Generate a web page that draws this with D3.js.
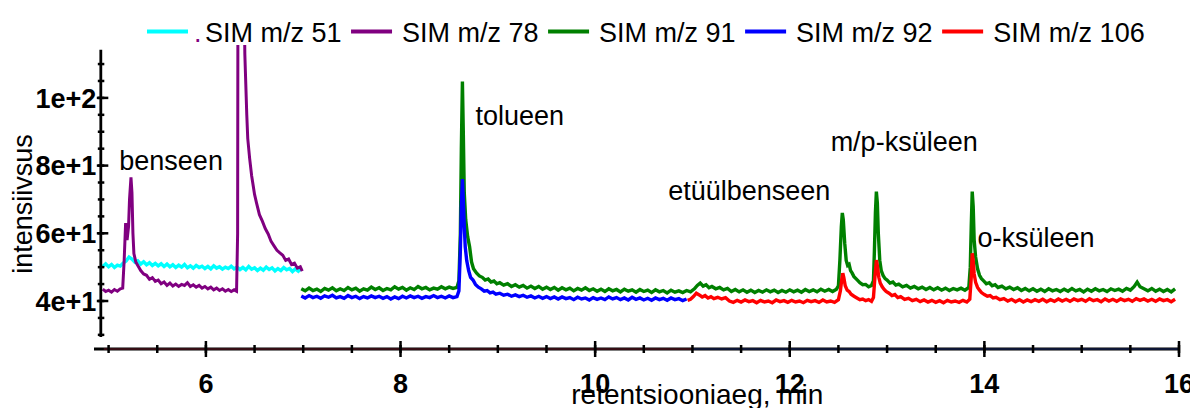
<!DOCTYPE html>
<html><head><meta charset="utf-8">
<script src="https://cdn.jsdelivr.net/npm/d3@7"></script>
<style>body{margin:0;background:#fff}svg{display:block}text{font-family:"Liberation Sans",Arial,sans-serif}</style>
</head><body><svg id="c" width="1190" height="408"></svg>
<script>
// ---- data ----
const seriesNames = ["SIM m/z 51","SIM m/z 78","SIM m/z 91","SIM m/z 92","SIM m/z 106"];
const seriesColors = ["#00ffff","#800080","#008000","#0000ff","#ff0000"];
const xMajorTicks = [6,8,10,12,14,16];
const yMajorTicks = [40,60,80,100];
const yTickLabels = ["4e+1","6e+1","8e+1","1e+2"];
const xTitle = "retentsiooniaeg, min";
const yTitle = "intensiivsus";
const peakLabels = ["benseen","tolueen","etüülbenseen","m/p-ksüleen","o-ksüleen"];
const peakLabelAt = [[5.11,78.7],[8.77,92],[10.75,69.8],[12.42,84.2],[13.93,56]];

const mz51 = [[4.94,50.2],[4.97,51.0],[5.00,50.1],[5.03,50.8],[5.06,49.9],[5.09,50.6],[5.12,50.3],[5.15,51.2],[5.18,51.8],[5.21,53.0],[5.24,52.4],[5.27,51.5],[5.30,51.9],[5.33,50.9],[5.36,51.6],[5.39,50.7],[5.42,51.3],[5.45,50.5],[5.48,51.1],[5.51,50.4],[5.54,51.0],[5.57,50.2],[5.60,50.9],[5.63,50.1],[5.66,50.7],[5.69,49.9],[5.72,50.6],[5.75,50.0],[5.78,50.8],[5.81,49.8],[5.84,50.4],[5.87,49.7],[5.90,50.5],[5.93,49.9],[5.96,50.3],[5.99,49.6],[6.02,50.2],[6.05,49.5],[6.08,50.4],[6.11,49.7],[6.14,50.1],[6.17,49.4],[6.20,50.0],[6.23,49.6],[6.26,50.3],[6.29,49.5],[6.32,50.0],[6.35,49.3],[6.38,49.9],[6.41,49.2],[6.44,50.2],[6.47,49.4],[6.50,49.8],[6.53,49.0],[6.56,49.7],[6.59,49.1],[6.62,50.0],[6.65,49.3],[6.68,49.8],[6.71,48.9],[6.74,49.6],[6.77,49.0],[6.80,49.9],[6.83,49.2],[6.86,49.6],[6.89,48.7],[6.92,49.5],[6.95,48.8],[6.98,49.7]];

const mz78 = [[4.94,43.5],[4.97,42.8],[5.00,43.2],[5.03,42.6],[5.06,43.4],[5.09,42.9],[5.12,43.6],[5.145,43.8],[5.16,52],[5.175,63],[5.19,58],[5.205,62],[5.215,70],[5.23,76.5],[5.24,72],[5.25,60],[5.26,54],[5.28,51.5],[5.30,50.5],[5.33,49],[5.36,48],[5.39,47.6],[5.42,46.4],[5.45,46.9],[5.48,45.8],[5.51,46.2],[5.54,45.1],[5.57,45.6],[5.60,44.6],[5.63,45.3],[5.66,44.4],[5.69,45.0],[5.72,44.3],[5.75,44.9],[5.78,44.6],[5.81,45.4],[5.84,44.3],[5.87,44.8],[5.90,44.1],[5.93,44.6],[5.96,43.8],[5.99,44.3],[6.02,43.6],[6.05,44.1],[6.08,43.3],[6.11,43.8],[6.14,43.1],[6.17,43.6],[6.20,42.9],[6.23,43.4],[6.26,42.8],[6.29,43.3],[6.315,42.9],[6.326,60],[6.33,150],[6.36,220],[6.40,113],[6.42,95],[6.43,88],[6.45,82],[6.47,77],[6.50,71.5],[6.52,69],[6.55,65.5],[6.58,63.6],[6.61,61.4],[6.64,59.8],[6.67,57.6],[6.70,56.3],[6.73,55.0],[6.76,54.2],[6.79,53.5],[6.82,52.0],[6.85,52.4],[6.88,50.8],[6.91,51.2],[6.94,49.7],[6.97,50.1],[6.99,48.8]];

const mz91 = [[6.98,43.6],[7.02,43.0],[7.06,43.8],[7.10,43.1],[7.14,43.5],[7.18,42.8],[7.22,43.7],[7.26,43.2],[7.30,43.9],[7.34,43.0],[7.38,43.6],[7.42,43.1],[7.46,44.0],[7.50,43.3],[7.54,43.8],[7.58,42.9],[7.62,43.6],[7.66,43.2],[7.70,44.1],[7.74,43.4],[7.78,43.9],[7.82,43.1],[7.86,43.7],[7.90,43.3],[7.94,44.2],[7.98,43.5],[8.02,44.0],[8.06,43.2],[8.10,43.9],[8.14,43.4],[8.18,44.3],[8.22,43.6],[8.26,44.0],[8.30,43.3],[8.34,43.8],[8.38,43.5],[8.42,44.2],[8.46,43.6],[8.50,44.1],[8.54,43.7],[8.58,44.0],[8.60,46],[8.615,60],[8.625,85],[8.636,104.8],[8.645,90],[8.655,72],[8.67,64],[8.69,59],[8.71,56],[8.73,51.5],[8.75,49.5],[8.78,48.3],[8.81,47.4],[8.84,47.0],[8.87,46.2],[8.90,46.5],[8.93,45.6],[8.96,45.9],[8.99,45.1],[9.02,45.4],[9.06,44.7],[9.10,45.1],[9.14,44.3],[9.18,44.8],[9.22,44.1],[9.26,44.6],[9.30,43.8],[9.34,44.4],[9.38,43.7],[9.42,44.3],[9.46,43.5],[9.50,44.1],[9.54,43.4],[9.58,44.0],[9.62,43.2],[9.66,43.9],[9.70,43.3],[9.74,43.8],[9.78,43.0],[9.82,43.7],[9.86,43.2],[9.90,43.9],[9.94,43.1],[9.98,43.6],[10.02,42.9],[10.06,43.5],[10.10,42.8],[10.14,43.6],[10.18,43.0],[10.22,43.4],[10.26,42.7],[10.30,43.5],[10.34,42.9],[10.38,43.3],[10.42,42.6],[10.46,43.4],[10.50,42.8],[10.54,43.2],[10.58,42.5],[10.62,43.3],[10.66,42.7],[10.70,43.1],[10.74,42.4],[10.78,43.2],[10.82,42.6],[10.86,43.0],[10.90,42.5],[10.94,43.1],[10.98,42.7],[11.02,43.6],[11.05,44.6],[11.08,45.3],[11.11,44.4],[11.14,44.8],[11.17,43.9],[11.20,44.3],[11.24,43.6],[11.28,44.0],[11.32,43.3],[11.36,43.7],[11.40,42.8],[11.44,43.4],[11.48,42.7],[11.52,43.3],[11.56,42.6],[11.60,43.2],[11.64,42.5],[11.68,43.1],[11.72,42.6],[11.76,43.3],[11.80,42.7],[11.84,43.2],[11.88,42.5],[11.92,43.1],[11.96,42.6],[12.00,43.3],[12.04,42.7],[12.08,43.2],[12.12,42.6],[12.16,43.4],[12.20,42.8],[12.24,43.3],[12.28,42.7],[12.32,43.5],[12.36,42.9],[12.40,43.4],[12.44,42.8],[12.48,43.5],[12.50,44.5],[12.515,52],[12.53,62],[12.54,66],[12.55,64],[12.565,57],[12.58,52],[12.595,50.5],[12.61,50.8],[12.625,49],[12.64,48.3],[12.66,47.2],[12.68,46.6],[12.70,46.0],[12.72,45.4],[12.75,44.8],[12.78,44.9],[12.81,44.2],[12.84,44.6],[12.86,46],[12.87,55],[12.88,66],[12.89,72.3],[12.90,69],[12.91,60],[12.925,52],[12.94,49],[12.96,47.5],[12.98,46.6],[13.00,46.2],[13.03,45.3],[13.06,45.6],[13.09,44.7],[13.12,45.0],[13.16,44.2],[13.20,44.6],[13.24,43.8],[13.28,44.3],[13.32,43.6],[13.36,44.1],[13.40,43.4],[13.44,44.0],[13.48,43.3],[13.52,43.9],[13.56,43.2],[13.60,43.8],[13.64,43.1],[13.68,43.7],[13.72,43.3],[13.76,43.8],[13.80,43.2],[13.84,44.0],[13.855,50],[13.865,62],[13.875,72.3],[13.885,68],[13.895,58],[13.91,53],[13.93,49.5],[13.95,47.6],[13.97,46.6],[13.99,46.0],[14.02,45.1],[14.05,45.4],[14.08,44.5],[14.11,44.8],[14.14,44.0],[14.18,44.4],[14.22,43.6],[14.26,44.1],[14.30,43.4],[14.34,43.9],[14.38,43.1],[14.42,43.7],[14.46,43.0],[14.50,43.6],[14.54,42.9],[14.58,43.5],[14.62,42.8],[14.66,43.6],[14.70,43.0],[14.74,43.4],[14.78,42.8],[14.82,43.5],[14.86,42.9],[14.90,43.7],[14.94,43.0],[14.98,43.4],[15.02,42.7],[15.06,43.5],[15.10,42.9],[15.14,43.6],[15.18,43.0],[15.22,43.4],[15.26,42.8],[15.30,43.6],[15.34,43.1],[15.38,43.5],[15.42,42.9],[15.46,43.7],[15.50,43.2],[15.54,44.3],[15.57,45.6],[15.60,44.2],[15.64,43.6],[15.68,43.0],[15.72,43.7],[15.76,42.9],[15.80,43.5],[15.84,42.8],[15.88,43.4],[15.92,42.7],[15.96,43.6]];

const mz92 = [[6.98,41.5],[7.02,40.9],[7.06,41.6],[7.10,41.0],[7.14,41.4],[7.18,40.8],[7.22,41.5],[7.26,41.1],[7.30,41.7],[7.34,40.9],[7.38,41.3],[7.42,40.8],[7.46,41.6],[7.50,41.0],[7.54,41.4],[7.58,40.7],[7.62,41.3],[7.66,40.9],[7.70,41.5],[7.74,41.0],[7.78,41.4],[7.82,40.8],[7.86,41.3],[7.90,40.6],[7.94,41.2],[7.98,40.7],[8.02,41.4],[8.06,40.9],[8.10,41.5],[8.14,41.0],[8.18,41.4],[8.22,40.8],[8.26,41.3],[8.30,41.0],[8.34,41.6],[8.38,41.0],[8.42,41.4],[8.46,40.9],[8.50,41.5],[8.54,41.0],[8.58,41.3],[8.60,43],[8.615,55],[8.625,68],[8.636,76],[8.645,70],[8.655,62],[8.665,56],[8.68,52],[8.70,49],[8.72,47],[8.745,46.2],[8.77,44.9],[8.80,44.1],[8.83,43.6],[8.86,42.9],[8.89,43.1],[8.92,42.4],[8.95,42.6],[8.98,42.0],[9.02,42.3],[9.06,41.7],[9.10,42.0],[9.14,41.4],[9.18,41.8],[9.22,41.3],[9.26,41.7],[9.30,41.1],[9.34,41.5],[9.38,40.9],[9.42,41.4],[9.46,40.8],[9.50,41.3],[9.54,40.7],[9.58,41.2],[9.62,40.6],[9.66,41.2],[9.70,40.7],[9.74,41.0],[9.78,40.4],[9.82,41.1],[9.86,40.6],[9.90,40.9],[9.94,40.3],[9.98,41.0],[10.02,40.5],[10.06,40.9],[10.10,40.4],[10.14,41.2],[10.18,40.6],[10.22,41.0],[10.26,40.4],[10.30,40.9],[10.34,40.3],[10.38,41.1],[10.42,40.5],[10.46,40.9],[10.50,40.3],[10.54,40.8],[10.58,40.2],[10.62,40.9],[10.66,40.4],[10.70,40.8],[10.74,40.2],[10.78,40.9],[10.82,40.4],[10.86,40.7],[10.90,40.1],[10.94,40.6]];

const mz106 = [[10.95,40.2],[10.98,40.5],[11.01,41.3],[11.04,42.3],[11.07,41.8],[11.10,41.2],[11.13,41.6],[11.16,40.9],[11.19,41.3],[11.22,40.7],[11.26,41.1],[11.30,40.6],[11.34,41.0],[11.38,40.0],[11.42,39.6],[11.46,40.2],[11.50,39.7],[11.54,40.3],[11.58,39.8],[11.62,40.1],[11.66,39.5],[11.70,40.2],[11.74,39.7],[11.78,40.0],[11.82,39.5],[11.86,40.3],[11.90,39.8],[11.94,40.1],[11.98,39.6],[12.02,40.2],[12.06,39.7],[12.10,40.0],[12.14,39.5],[12.18,40.2],[12.22,39.8],[12.26,40.1],[12.30,39.6],[12.34,40.3],[12.38,39.7],[12.42,40.0],[12.46,39.6],[12.50,40.4],[12.52,43],[12.535,46.5],[12.545,48.2],[12.555,47],[12.57,44.5],[12.59,43.2],[12.61,42.8],[12.63,42.0],[12.66,41.4],[12.69,40.9],[12.72,40.4],[12.75,40.6],[12.78,40.1],[12.81,40.4],[12.84,39.9],[12.86,41],[12.875,47],[12.89,52.1],[12.90,50.5],[12.915,47],[12.93,45.3],[12.95,44.2],[12.97,43.4],[12.99,42.8],[13.02,42.3],[13.05,41.6],[13.08,41.9],[13.11,41.0],[13.14,41.3],[13.18,40.5],[13.22,40.8],[13.26,40.1],[13.30,40.5],[13.34,39.8],[13.38,40.3],[13.42,39.7],[13.46,40.2],[13.50,39.6],[13.54,40.1],[13.58,39.5],[13.62,40.2],[13.66,39.7],[13.70,40.0],[13.74,39.6],[13.78,40.2],[13.82,39.7],[13.85,40.5],[13.865,47],[13.875,54.1],[13.885,52],[13.895,48],[13.91,45.5],[13.93,44.0],[13.95,43.2],[13.97,42.5],[14.00,41.9],[14.03,41.4],[14.06,41.6],[14.09,40.9],[14.12,41.1],[14.16,40.4],[14.20,40.7],[14.24,40.0],[14.28,40.5],[14.32,39.8],[14.36,40.4],[14.40,39.7],[14.44,40.3],[14.48,39.8],[14.52,40.4],[14.56,39.9],[14.60,40.5],[14.64,39.8],[14.68,40.4],[14.72,39.9],[14.76,40.6],[14.80,40.0],[14.84,40.5],[14.88,39.9],[14.92,40.6],[14.96,40.1],[15.00,40.5],[15.04,39.9],[15.08,40.7],[15.12,40.1],[15.16,40.4],[15.20,39.8],[15.24,40.6],[15.28,40.0],[15.32,40.5],[15.36,39.9],[15.40,40.6],[15.44,40.1],[15.48,40.5],[15.52,39.9],[15.56,40.7],[15.60,40.2],[15.64,40.6],[15.68,40.0],[15.72,40.5],[15.76,39.9],[15.80,40.6],[15.84,40.1],[15.88,40.4],[15.92,39.8],[15.96,40.5]];

const allSeries = [mz51, mz78, mz91, mz92, mz106];

// ---- drawing ----
const svg = d3.select("#c");
const x = d3.scaleLinear().domain([4.85, 16]).range([94, 1179]);
const y = d3.scaleLinear().domain([40, 100]).range([301, 97.9]);
const yAxisX = x(4.92);
const xAxisY = 349;
const FONT = 27;

svg.append("defs").append("clipPath").attr("id","plot")
  .append("rect").attr("x", yAxisX).attr("y", y(115.6))
  .attr("width", x(16.05) - yAxisX).attr("height", y(29) - y(115.6));

const line = d3.line().x(d => x(d[0])).y(d => y(d[1]));
const g = svg.append("g").attr("clip-path","url(#plot)");
allSeries.forEach((s, i) => {
  g.append("path").datum(s).attr("d", line)
    .attr("fill","none").attr("stroke", seriesColors[i])
    .attr("stroke-width", i === 1 ? 3 : 3.4).attr("stroke-linejoin","miter");
});

// y axis
const yMinor = d3.range(30, 111, 5);
const yAx = svg.append("g");
yAx.append("line").attr("x1", yAxisX).attr("x2", yAxisX).attr("y1", y(114.2)).attr("y2", y(29.4))
  .attr("stroke","#000").attr("stroke-width",2.8);
yAx.selectAll("line.mn").data(yMinor).join("line").attr("class","mn")
  .attr("x1", yAxisX-3).attr("x2", yAxisX+3.5).attr("y1", d=>y(d)).attr("y2", d=>y(d))
  .attr("stroke","#000").attr("stroke-width",2.5);
yAx.selectAll("line.mj").data(yMajorTicks).join("line").attr("class","mj")
  .attr("x1", yAxisX-4).attr("x2", yAxisX+7.5).attr("y1", d=>y(d)).attr("y2", d=>y(d))
  .attr("stroke","#000").attr("stroke-width",2.5);
yAx.selectAll("text").data(yMajorTicks).join("text")
  .attr("x", yAxisX-4.5).attr("y", d=>y(d)).attr("dy","0.36em")
  .attr("text-anchor","end").attr("font-size",FONT).attr("font-weight","bold")
  .text((d,i)=>yTickLabels[i]);

// x axis
const xMinor = d3.range(5, 16.01, 0.5);
const xAx = svg.append("g");
xAx.append("line").attr("x1", x(4.85)).attr("x2", x(16)).attr("y1", xAxisY).attr("y2", xAxisY)
  .attr("stroke","#000").attr("stroke-width",3);
xAx.append("line").attr("x1", x(4.95)).attr("x2", x(11)).attr("y1", xAxisY).attr("y2", xAxisY)
  .attr("stroke","#6a1a28").attr("stroke-width",1.2);
xAx.append("line").attr("x1", x(11)).attr("x2", x(16)).attr("y1", xAxisY).attr("y2", xAxisY)
  .attr("stroke","#1a2a6a").attr("stroke-width",1.2);
xAx.selectAll("line.mn").data(xMinor).join("line").attr("class","mn")
  .attr("x1", d=>x(d)).attr("x2", d=>x(d)).attr("y1", xAxisY-4).attr("y2", xAxisY+4)
  .attr("stroke","#000").attr("stroke-width",2.5);
xAx.selectAll("line.mj").data(xMajorTicks).join("line").attr("class","mj")
  .attr("x1", d=>x(d)).attr("x2", d=>x(d)).attr("y1", xAxisY-8).attr("y2", xAxisY+8)
  .attr("stroke","#000").attr("stroke-width",2.5);
xAx.selectAll("text").data(xMajorTicks).join("text")
  .attr("x", d=>x(d)).attr("y", 393).attr("text-anchor","middle")
  .attr("font-size",FONT).attr("font-weight","bold").text(d=>d);

// titles
svg.append("text").attr("x", x(11.05)).attr("y", 404).attr("text-anchor","middle")
  .attr("font-size",28).text(xTitle);
svg.append("text").attr("transform","translate(32,204) rotate(-90)").attr("text-anchor","middle")
  .attr("font-size",FONT).text(yTitle);

// peak labels
svg.selectAll("text.pk").data(peakLabels).join("text").attr("class","pk")
  .attr("x",(d,i)=>x(peakLabelAt[i][0])).attr("y",(d,i)=>y(peakLabelAt[i][1]))
  .attr("font-size",FONT).text(d=>d);

// legend
const lg = svg.append("g");
let cx = 147;
seriesNames.forEach((name, i) => {
  lg.append("line").attr("x1", cx).attr("x2", cx+41).attr("y1", 31.5).attr("y2", 31.5)
    .attr("stroke", seriesColors[i]).attr("stroke-width", 4);
  cx += 41 + 10;
  if (i === 0) {
    lg.append("text").attr("x", cx-4).attr("y", 42).attr("font-size",FONT)
      .attr("fill", seriesColors[1]).text(".");
    cx += 7;
  }
  const t = lg.append("text").attr("x", cx).attr("y", 42).attr("font-size",FONT).text(name);
  cx += t.node().getComputedTextLength() + 9.5;
});
</script></body></html>
